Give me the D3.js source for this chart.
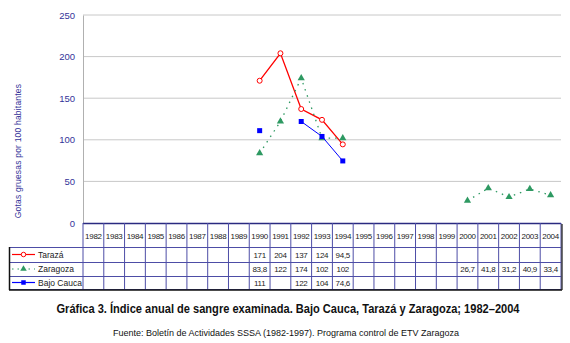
<!DOCTYPE html>
<html>
<head>
<meta charset="utf-8">
<script src="https://cdn.jsdelivr.net/npm/d3@7"></script>
<style>
  body { margin: 0; background: #fff; }
  svg { display: block; font-family: "Liberation Sans", Arial, sans-serif; }
</style>
</head>
<body>
<script>
const years = [1982, 1983, 1984, 1985, 1986, 1987, 1988, 1989, 1990, 1991, 1992, 1993,
  1994, 1995, 1996, 1997, 1998, 1999, 2000, 2001, 2002, 2003, 2004]
const taraza = [null, null, null, null, null, null, null, null, 171, 204, 137, 124,
  94.5, null, null, null, null, null, null, null, null, null, null]
const zaragoza = [null, null, null, null, null, null, null, null, 83.8, 122, 174, 102,
  102, null, null, null, null, null, 26.7, 41.8, 31.2, 40.9, 33.4]
const bajoCauca = [null, null, null, null, null, null, null, null, 111, null, 122, 104,
  74.6, null, null, null, null, null, null, null, null, null, null]
const yTicks = [0, 50, 100, 150, 200, 250]

const width = 570
const height = 343
const plotLeft = 83
const plotRight = 561
const plotTop = 15
const plotBottom = 223
const legendLeft = 9
const rowLines = [223, 247, 262, 276, 289]
const tableColor = "#4d4da6"

const series = [
  {name: "Tarazá", values: taraza, color: "#ff0000", dash: null, marker: "circle"},
  {name: "Zaragoza", values: zaragoza, color: "#2e9962", dash: "1.5,5", marker: "triangle"},
  {name: "Bajo Cauca", values: bajoCauca, color: "#0000ff", dash: null, marker: "square"}
]

const fmt = v => String(v).replace(".", ",")

const svg = d3.select("body").append("svg")
  .attr("width", width)
  .attr("height", height)

const x = d3.scaleBand().domain(years).range([plotLeft, plotRight])
const y = d3.scaleLinear().domain([0, 250]).range([plotBottom, plotTop])

// gridlines
svg.append("g")
  .selectAll("line")
  .data(yTicks.slice(1))
  .enter()
  .append("line")
  .attr("x1", plotLeft).attr("x2", plotRight)
  .attr("y1", d => y(d)).attr("y2", d => y(d))
  .attr("stroke", "#c8c8c8")
  .attr("stroke-width", 1)

// y axis
const yAxis = svg.append("g")
  .attr("transform", `translate(${plotLeft},0)`)
  .call(d3.axisLeft(y).tickValues(yTicks).tickSize(0).tickPadding(8))
yAxis.select(".domain").attr("stroke", "#b0b0b0")
yAxis.selectAll("text")
  .attr("fill", "#333399")
  .style("font-size", "9.5px")
  .style("font-family", "Liberation Sans, Arial, sans-serif")

svg.append("text")
  .attr("transform", `translate(21,${(plotTop + plotBottom) / 2 + 32}) rotate(-90)`)
  .attr("text-anchor", "middle")
  .attr("fill", "#333399")
  .style("font-size", "8.5px")
  .style("letter-spacing", "0.2px")
  .text("Gotas gruesas por 100 habitantes")

// data table
const table = svg.append("g")
table.selectAll(".hline")
  .data(rowLines)
  .enter()
  .append("line")
  .attr("x1", (d, i) => i === 0 ? plotLeft : legendLeft)
  .attr("x2", plotRight)
  .attr("y1", d => d + 0.5).attr("y2", d => d + 0.5)
  .attr("stroke", (d, i) => i === 0 ? "#2a2a80" : tableColor)
  .attr("stroke-width", (d, i) => i === 0 ? 1.5 : 1)

table.selectAll(".vline")
  .data(years.concat(["end"]))
  .enter()
  .append("line")
  .attr("x1", d => d === "end" ? plotRight : x(d))
  .attr("x2", d => d === "end" ? plotRight : x(d))
  .attr("y1", plotBottom).attr("y2", rowLines[4])
  .attr("stroke", tableColor)
  .attr("stroke-width", 1)

table.append("line")
  .attr("x1", legendLeft + 0.5).attr("x2", legendLeft + 0.5)
  .attr("y1", rowLines[1]).attr("y2", rowLines[4] + 1)
  .attr("stroke", "#111").attr("stroke-width", 1.5)
table.append("line")
  .attr("x1", legendLeft).attr("x2", plotRight + 1)
  .attr("y1", rowLines[4] + 1).attr("y2", rowLines[4] + 1)
  .attr("stroke", "#111").attr("stroke-width", 1.5)
table.append("line")
  .attr("x1", plotRight + 1).attr("x2", plotRight + 1)
  .attr("y1", plotBottom + 1).attr("y2", rowLines[4] + 1)
  .attr("stroke", "#111").attr("stroke-width", 1.2)

table.selectAll(".year")
  .data(years)
  .enter()
  .append("text")
  .attr("x", d => x(d) + x.bandwidth() / 2)
  .attr("y", 239)
  .attr("text-anchor", "middle")
  .attr("fill", "#222")
  .style("font-size", "8px")
  .style("letter-spacing", "-0.3px")
  .text(d => d)

const drawMarker = (g, s, cx, cy, size) => {
  if (s.marker === "circle") {
    g.append("circle").attr("cx", cx).attr("cy", cy).attr("r", size * 0.5)
      .attr("fill", "#fff").attr("stroke", s.color).attr("stroke-width", 1)
  } else if (s.marker === "triangle") {
    g.append("path")
      .attr("d", d3.symbol().type(d3.symbolTriangle).size(size * size * 0.9)())
      .attr("transform", `translate(${cx},${cy})`)
      .attr("fill", s.color)
  } else {
    g.append("rect").attr("x", cx - size / 2).attr("y", cy - size / 2)
      .attr("width", size).attr("height", size).attr("fill", s.color)
  }
}

series.forEach((s, i) => {
  const rowY = (rowLines[i + 1] + rowLines[i + 2]) / 2
  const lg = table.append("g")
  lg.append("line")
    .attr("x1", 12).attr("x2", 35)
    .attr("y1", rowY).attr("y2", rowY)
    .attr("stroke", s.color).attr("stroke-width", 1.2)
    .attr("stroke-dasharray", s.dash ? "1.5,4" : null)
  drawMarker(lg, s, 23.5, rowY, 4.5)
  lg.append("text")
    .attr("x", 38).attr("y", rowY + 3)
    .attr("fill", "#222")
    .style("font-size", "8.5px")
    .text(s.name)

  table.selectAll(`.val${i}`)
    .data(years.map((yr, j) => ({yr, v: s.values[j]})).filter(d => d.v !== null))
    .enter()
    .append("text")
    .attr("x", d => x(d.yr) + x.bandwidth() / 2)
    .attr("y", rowY + 3)
    .attr("text-anchor", "middle")
    .attr("fill", "#222")
    .style("font-size", "8px")
    .style("letter-spacing", "-0.3px")
    .text(d => fmt(d.v))
})

// series lines and markers
const line = d3.line()
  .defined(d => d.v !== null)
  .x(d => x(d.yr) + x.bandwidth() / 2)
  .y(d => y(d.v))

series.forEach(s => {
  const pts = years.map((yr, j) => ({yr, v: s.values[j]}))
  svg.append("path")
    .datum(pts)
    .attr("d", line)
    .attr("fill", "none")
    .attr("stroke", s.color)
    .attr("stroke-width", s.marker === "square" ? 1 : 1.3)
    .attr("stroke-dasharray", s.dash)
  const mg = svg.append("g")
  pts.filter(d => d.v !== null).forEach(d => {
    drawMarker(mg, s, x(d.yr) + x.bandwidth() / 2, y(d.v), 5)
  })
})

svg.append("text")
  .attr("x", 288).attr("y", 313)
  .attr("text-anchor", "middle")
  .attr("fill", "#111")
  .style("font-size", "12px")
  .style("font-weight", "bold")
  .attr("textLength", 463)
  .attr("lengthAdjust", "spacingAndGlyphs")
  .text("Gráfica 3. Índice anual de sangre examinada. Bajo Cauca, Tarazá y Zaragoza; 1982–2004")

svg.append("text")
  .attr("x", 286).attr("y", 336)
  .attr("text-anchor", "middle")
  .attr("fill", "#111")
  .style("font-size", "9px")
  .text("Fuente: Boletín de Actividades SSSA (1982-1997). Programa control de ETV Zaragoza")
</script>
</body>
</html>
